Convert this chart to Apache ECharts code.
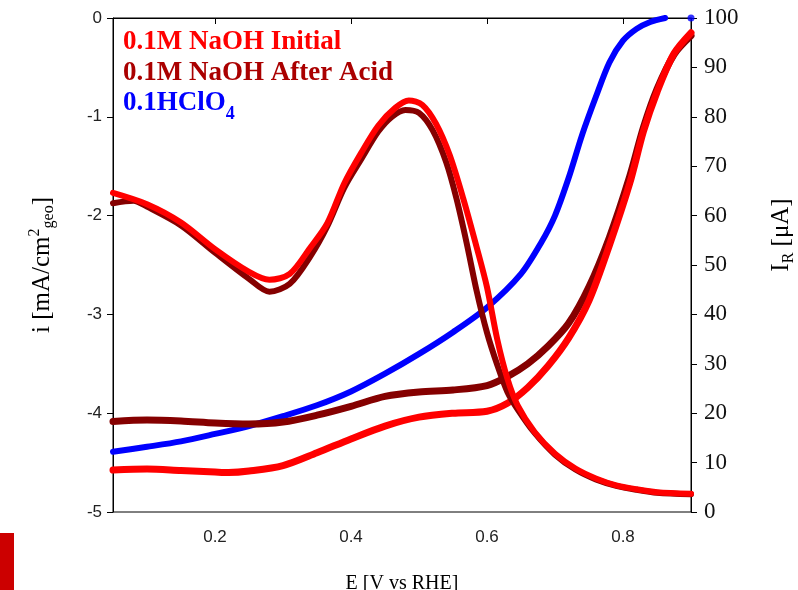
<!DOCTYPE html>
<html>
<head>
<meta charset="utf-8">
<script src="https://cdn.jsdelivr.net/npm/echarts@6/dist/echarts.min.js"></script>
<style>
  html, body { margin: 0; padding: 0; background: #fff; }
  #chart { width: 798px; height: 590px; }
</style>
</head>
<body>
<div id="chart"></div>
<script>
// Potential axis (V vs RHE) and its labelled ticks
const xTicks = [0.2, 0.4, 0.6, 0.8];

// Disk current density, 0.1 M HClO4
const hclo4E = [0.05, 0.1, 0.15, 0.2, 0.25, 0.3, 0.35, 0.4, 0.45, 0.5, 0.55, 0.6, 0.65, 0.68, 0.70, 0.72, 0.74, 0.76, 0.78, 0.80, 0.82, 0.84, 0.862];
const hclo4I = [-4.39, -4.34, -4.285, -4.21, -4.13, -4.03, -3.92, -3.78, -3.60, -3.40, -3.18, -2.93, -2.59, -2.27, -2.00, -1.62, -1.18, -0.80, -0.45, -0.23, -0.11, -0.04, 0];
const hclo4EndE = 0.9;
const hclo4EndI = 0;

// Disk current density, 0.1 M NaOH initial
const naohE = [0.05, 0.1, 0.15, 0.2, 0.22, 0.25, 0.3, 0.35, 0.4, 0.45, 0.5, 0.55, 0.6, 0.63, 0.66, 0.69, 0.72, 0.75, 0.78, 0.81, 0.83, 0.85, 0.875, 0.9];
const naohI = [-4.575, -4.565, -4.58, -4.595, -4.60, -4.585, -4.53, -4.40, -4.26, -4.13, -4.04, -4.00, -3.98, -3.90, -3.74, -3.52, -3.24, -2.86, -2.30, -1.67, -1.15, -0.75, -0.36, -0.15];

// Disk current density, 0.1 M NaOH after acid
const acidE = [0.05, 0.1, 0.15, 0.2, 0.25, 0.3, 0.35, 0.4, 0.45, 0.5, 0.55, 0.6, 0.63, 0.66, 0.69, 0.72, 0.75, 0.78, 0.81, 0.83, 0.85, 0.875, 0.9];
const acidI = [-4.085, -4.07, -4.08, -4.10, -4.11, -4.09, -4.02, -3.93, -3.83, -3.785, -3.765, -3.72, -3.63, -3.50, -3.32, -3.09, -2.72, -2.22, -1.60, -1.11, -0.72, -0.37, -0.18];

// Ring current (uA), 0.1 M NaOH initial
const naohRingE = [0.05, 0.1, 0.15, 0.2, 0.25, 0.28, 0.31, 0.34, 0.365, 0.39, 0.415, 0.44, 0.465, 0.485, 0.505, 0.525, 0.545, 0.565, 0.585, 0.6, 0.615, 0.63, 0.645, 0.67, 0.70, 0.73, 0.76, 0.79, 0.82, 0.85, 0.9];
const naohRingI = [64.6, 62.3, 58.6, 53.2, 48.6, 47.0, 48.2, 53.5, 58.4, 66.5, 72.7, 78.2, 81.8, 83.3, 82.4, 78.6, 72.3, 63.5, 53.5, 45.5, 35.0, 27.0, 21.6, 16.2, 11.8, 8.8, 6.8, 5.4, 4.6, 4.0, 3.7];

// Ring current (uA), 0.1 M NaOH after acid
const acidRingE = [0.05, 0.08, 0.1, 0.15, 0.2, 0.25, 0.28, 0.31, 0.34, 0.365, 0.39, 0.415, 0.44, 0.46, 0.48, 0.50, 0.52, 0.54, 0.555, 0.57, 0.585, 0.6, 0.615, 0.63, 0.645, 0.67, 0.70, 0.73, 0.76, 0.79, 0.82, 0.85, 0.9];
const acidRingI = [62.5, 63.0, 61.8, 58.0, 52.5, 47.2, 44.6, 46.2, 51.7, 57.8, 65.6, 71.4, 77.0, 80.0, 81.4, 80.8, 77.3, 70.8, 63.5, 54.5, 44.6, 36.3, 29.8, 24.3, 20.8, 16.0, 11.6, 8.6, 6.6, 5.3, 4.5, 3.9, 3.6];

const RED = '#ff0000';
const DARK = '#850000';
const BLUE = '#0000ff';
const SERIF = '"Liberation Serif", "Times New Roman", serif';
const SANS = '"Liberation Sans", Arial, sans-serif';

const zip = (xs, ys) => xs.map((x, k) => [x, ys[k]]);

const lineSeries = (name, data, color, width, yIndex) => ({
  name,
  type: 'line',
  yAxisIndex: yIndex,
  data,
  smooth: 0.3,
  showSymbol: false,
  symbol: 'none',
  lineStyle: { color, width, cap: 'round', join: 'round' },
  animation: false
});

const chart = echarts.init(document.getElementById('chart'), null, { renderer: 'canvas' });

chart.setOption({
  backgroundColor: '#ffffff',
  animation: false,
  grid: {
    left: 113, right: 107, top: 18, bottom: 78,
    containLabel: false,
    outerBoundsMode: 'none',
    show: true, borderColor: '#000', borderWidth: 1, backgroundColor: 'transparent'
  },
  xAxis: {
    type: 'value',
    min: 0.05,
    max: 0.9,
    name: 'E [V vs RHE]',
    nameLocation: 'middle',
    nameGap: 62,
    nameTextStyle: { fontFamily: SERIF, fontSize: 20, color: '#000' },
    axisLine: { show: true, lineStyle: { color: '#000', width: 1 } },
    axisTick: { show: true, inside: false, length: 6, customValues: xTicks, lineStyle: { color: '#000' } },
    axisLabel: { customValues: xTicks, fontFamily: SANS, fontSize: 17, color: '#222', margin: 17,
      formatter: v => v.toFixed(1) },
    splitLine: { show: false }
  },
  yAxis: [
    {
      type: 'value',
      min: -5, max: 0, interval: 1,
      position: 'left',
      name: '{a|i [mA/cm}{sup|2}{sub|geo}{a|]}',
      nameLocation: 'middle',
      nameRotate: 90,
      nameGap: 56,
      nameTextStyle: {
        fontFamily: SERIF, fontSize: 25, color: '#000',
        rich: {
          a: { fontFamily: SERIF, fontSize: 25, lineHeight: 30, color: '#000' },
          sup: { fontFamily: SERIF, fontSize: 16, lineHeight: 16, verticalAlign: 'top', color: '#000' },
          sub: { fontFamily: SERIF, fontSize: 16, lineHeight: 16, verticalAlign: 'bottom', color: '#000' }
        }
      },
      axisLine: { show: true, lineStyle: { color: '#000', width: 1 } },
      axisTick: { show: true, inside: false, length: 6, lineStyle: { color: '#000' } },
      axisLabel: { fontFamily: SANS, fontSize: 17, color: '#222', margin: 11 },
      splitLine: { show: false }
    },
    {
      type: 'value',
      min: 0, max: 100, interval: 10,
      position: 'right',
      name: '{a|I}{sub|R}{a| [μA]}',
      nameLocation: 'middle',
      nameRotate: 90,
      nameGap: 74,
      nameTextStyle: {
        fontFamily: SERIF, fontSize: 25, color: '#000',
        padding: [0, 0, 0, 60],
        rich: {
          a: { fontFamily: SERIF, fontSize: 25, lineHeight: 32, color: '#000' },
          sub: { fontFamily: SERIF, fontSize: 16, lineHeight: 16, verticalAlign: 'bottom', color: '#000' }
        }
      },
      axisLine: { show: true, lineStyle: { color: '#000', width: 1 } },
      axisTick: { show: true, inside: false, length: 6, lineStyle: { color: '#000' } },
      axisLabel: { fontFamily: SERIF, fontSize: 23, color: '#111', margin: 13 },
      splitLine: { show: false }
    }
  ],
  series: [
    lineSeries('0.1HClO4', zip(hclo4E, hclo4I), BLUE, 6, 0),
    {
      name: '0.1HClO4 end',
      type: 'scatter',
      yAxisIndex: 0,
      data: [[hclo4EndE, hclo4EndI]],
      symbol: 'circle',
      symbolSize: 7,
      itemStyle: { color: BLUE },
      animation: false
    },
    lineSeries('0.1M NaOH After Acid', zip(acidE, acidI), DARK, 7, 0),
    lineSeries('0.1M NaOH Initial', zip(naohE, naohI), RED, 7, 0),
    lineSeries('0.1M NaOH After Acid ring', zip(acidRingE, acidRingI), DARK, 6, 1),
    lineSeries('0.1M NaOH Initial ring', zip(naohRingE, naohRingI), RED, 6, 1)
  ],
  graphic: [
    {
      type: 'text', left: 123, top: 29, z: 100,
      style: { text: '0.1M NaOH Initial', fill: RED, font: 'bold 27px ' + SERIF }
    },
    {
      type: 'text', left: 123, top: 60, z: 100,
      style: { text: '0.1M NaOH After Acid', fill: '#aa0000', font: 'bold 27px ' + SERIF }
    },
    {
      type: 'text', left: 123, top: 90, z: 100,
      style: {
        text: '{a|0.1HClO}{s|4}',
        fill: BLUE,
        rich: {
          a: { font: 'bold 27px ' + SERIF, fill: BLUE, lineHeight: 40, verticalAlign: 'middle' },
          s: { font: 'bold 18px ' + SERIF, fill: BLUE, lineHeight: 16, verticalAlign: 'bottom' }
        }
      }
    },
    {
      type: 'rect', left: 0, top: 533, z: 100,
      shape: { width: 14, height: 57 },
      style: { fill: '#cc0000' }
    }
  ]
});
</script>
</body>
</html>
